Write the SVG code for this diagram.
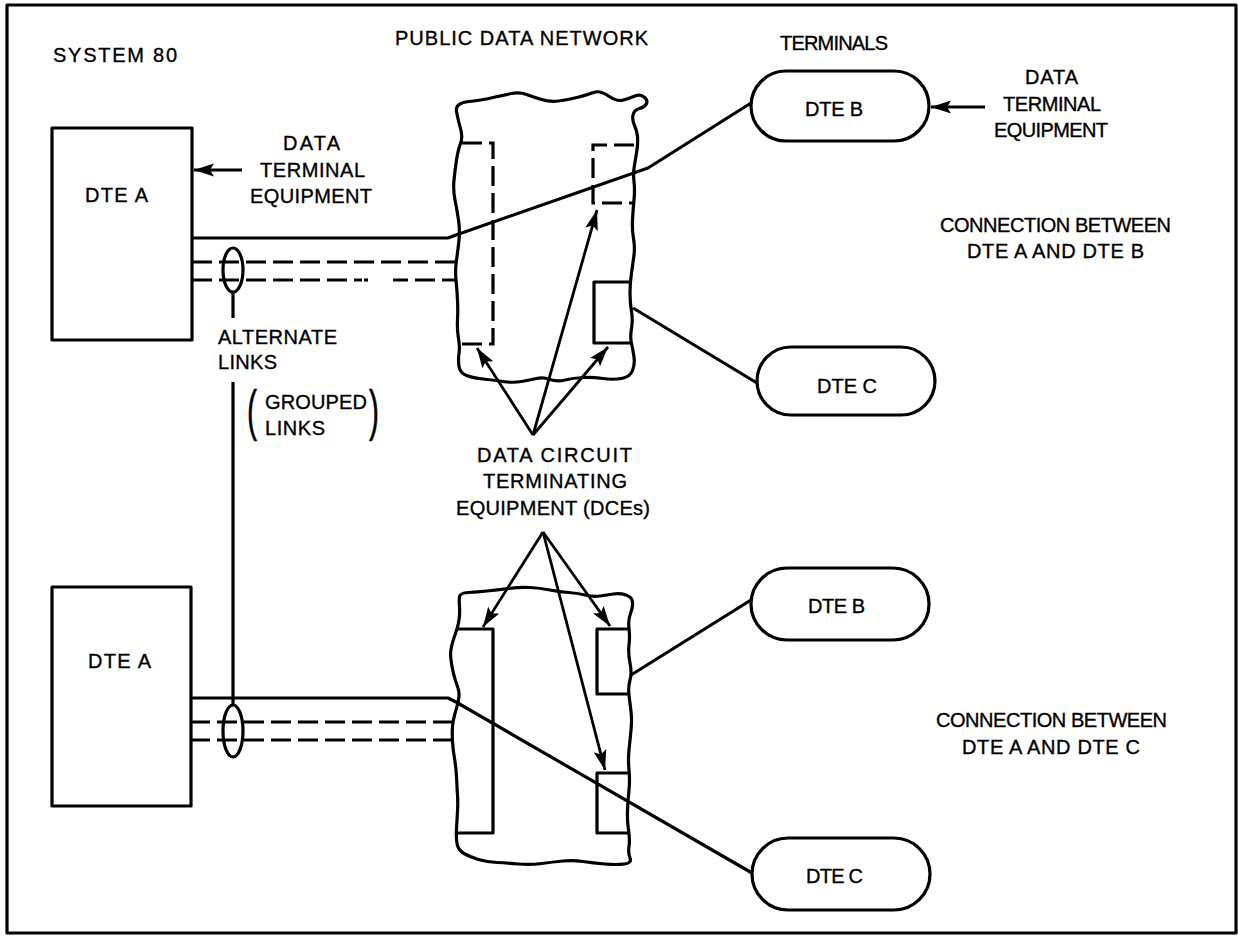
<svg xmlns="http://www.w3.org/2000/svg" width="1238" height="936" viewBox="0 0 1238 936">
<defs>
<style>
.t{font-family:"Liberation Sans",Arial,sans-serif;font-size:20px;fill:#000;stroke:#000;stroke-width:0.35}
.s{fill:none;stroke:#000;stroke-width:3.2;stroke-linejoin:round}
.d{fill:none;stroke:#000;stroke-width:3.2;stroke-dasharray:20 7}
.a{fill:none;stroke:#000;stroke-width:2.8;marker-end:url(#ah)}
</style>
<marker id="ah" markerUnits="userSpaceOnUse" markerWidth="22" markerHeight="14" refX="20" refY="7" orient="auto"><path d="M0,0.5 L20,7 L0,13.5 L4,7 Z" fill="#000"/></marker>
</defs>
<rect x="0" y="0" width="1238" height="936" fill="#fff"/>
<rect id="frame" x="7" y="5" width="1229" height="928" class="s"/>

<text class="t" x="53" y="62" font-size="21" textLength="124" lengthAdjust="spacing">SYSTEM 80</text>
<text class="t" x="395" y="45" textLength="253" lengthAdjust="spacing">PUBLIC DATA NETWORK</text>
<text class="t" x="780" y="50" textLength="108" lengthAdjust="spacing">TERMINALS</text>

<g id="connectors">
<polyline class="s" points="192,238 448,238 456,235 648,168 751,103"/>
<line class="d" x1="192" y1="262" x2="456" y2="262"/>
<line class="d" x1="192" y1="280" x2="362" y2="280"/>
<line class="s" x1="364" y1="280" x2="368" y2="280"/>
<line class="d" x1="393" y1="280" x2="457" y2="280" stroke-dashoffset="5"/>
<line class="s" x1="633" y1="308" x2="757" y2="383"/>
<polyline class="s" points="190,698 448,698 456,702 752,873"/>
<line class="d" x1="190" y1="722" x2="454" y2="722"/>
<line class="d" x1="190" y1="740" x2="453" y2="740"/>
<line class="s" x1="631" y1="675" x2="751" y2="600"/>
<line class="s" x1="233" y1="292" x2="233" y2="318"/>
<line class="s" x1="233" y1="382" x2="233" y2="705"/>
<line class="a" x1="242" y1="170" x2="194" y2="170"/>
<line class="a" x1="985" y1="107" x2="931" y2="107"/>
<line class="a" x1="533" y1="435" x2="477" y2="348"/>
<line class="a" x1="533" y1="435" x2="608" y2="347"/>
<line class="a" x1="533" y1="435" x2="597" y2="210"/>
<line class="a" x1="543" y1="532" x2="483" y2="627"/>
<line class="a" x1="543" y1="532" x2="610" y2="626"/>
<line class="a" x1="543" y1="532" x2="605" y2="770"/>
</g>

<g id="dte-a-top">
<rect class="s" x="52" y="128" width="140" height="212"/>
<text class="t" x="85" y="202" textLength="63" lengthAdjust="spacing">DTE A</text>
</g>
<g id="dte-label-left">
<text class="t" x="283" y="150" textLength="57" lengthAdjust="spacing">DATA</text>
<text class="t" x="260" y="177" textLength="105" lengthAdjust="spacing">TERMINAL</text>
<text class="t" x="250" y="203" textLength="122" lengthAdjust="spacing">EQUIPMENT</text>
</g>
<g id="link-group-top"><ellipse class="s" cx="233" cy="270" rx="10" ry="22"/></g>
<g id="alt-links">
<text class="t" x="218" y="344" textLength="119" lengthAdjust="spacing">ALTERNATE</text>
<text class="t" x="218" y="369" textLength="59" lengthAdjust="spacing">LINKS</text>
<text class="t" transform="translate(247,429) scale(1.5,2.8)" font-size="20" style="stroke-width:0.2">(</text>
<text class="t" x="265" y="409" textLength="102" lengthAdjust="spacing">GROUPED</text>
<text class="t" x="265" y="435" textLength="60" lengthAdjust="spacing">LINKS</text>
<text class="t" transform="translate(369,429) scale(1.5,2.8)" font-size="20" style="stroke-width:0.2">)</text>
</g>

<g id="network-top">
<path class="s" d="M 469,101.5 Q 483,100 493,97.5 Q 503,95 511.5,93.5 Q 520,92 526.5,94.5 Q 533,97 541.5,99.5 Q 550,102 558.5,101 Q 567,100 577,97.5 Q 587,95 593.5,92.5 Q 600,90 608.5,96 Q 617,102 623.5,100 Q 630,98 635,96 Q 640,94 644,97 Q 648,100 646.5,103.5 Q 645,107 639.5,108.5 Q 634,110 633,115 Q 632,120 634.5,125.5 Q 637,131 637.5,136.5 Q 638,142 637,149.5 Q 636,157 634.5,165 Q 633,173 634,181.5 Q 635,190 634,200 Q 633,210 632.5,220 Q 632,230 633.5,238.5 Q 635,247 634,255 Q 633,263 631.5,273 Q 630,283 630,293 Q 630,303 631.5,311.5 Q 633,320 631.5,328.5 Q 630,337 631.5,343.5 Q 633,350 634,357 Q 635,364 632.5,370.5 Q 630,377 621.5,378.5 Q 613,380 603,378.5 Q 593,377 583,377.5 Q 573,378 565,380 Q 557,382 550,379.5 Q 543,377 536.5,378.5 Q 530,380 521.5,381.5 Q 513,383 503,381.5 Q 493,380 483,379 Q 473,378 466.5,375.5 Q 460,373 459,366.5 Q 458,360 459,353.5 Q 460,347 458.5,338.5 Q 457,330 457.5,320 Q 458,310 457.5,300 Q 457,290 456,280 Q 455,270 456.5,260 Q 458,250 459,240 Q 460,230 458.5,220 Q 457,210 455,200 Q 453,190 454,180 Q 455,170 456.5,160 Q 458,150 460.5,143.5 Q 463,137 460.5,128.5 Q 458,120 456.5,111.5 Q 455,103 469,101.5 Z"/>
<path class="d" d="M 462,143 H 493 V 344 H 461"/>
<path class="d" d="M 634,145 H 593 V 203 H 634"/>
<path class="s" d="M 632,282 H 594 V 343 H 632"/>
</g>

<g id="dte-b-top">
<rect class="s" x="751" y="71" width="178" height="70" rx="35"/>
<text class="t" x="805" y="116" textLength="58" lengthAdjust="spacing">DTE B</text>
</g>
<g id="dte-label-right">
<text class="t" x="1025" y="84" textLength="53" lengthAdjust="spacing">DATA</text>
<text class="t" x="1003" y="111" textLength="98" lengthAdjust="spacing">TERMINAL</text>
<text class="t" x="994" y="137" textLength="114" lengthAdjust="spacing">EQUIPMENT</text>
</g>
<g id="conn-ab">
<text class="t" x="940" y="232" textLength="231" lengthAdjust="spacing">CONNECTION BETWEEN</text>
<text class="t" x="967" y="258" textLength="177" lengthAdjust="spacing">DTE A AND DTE B</text>
</g>
<g id="dte-c-top">
<rect class="s" x="757" y="347" width="178" height="68" rx="34"/>
<text class="t" x="817" y="393" textLength="60" lengthAdjust="spacing">DTE C</text>
</g>

<g id="dce-label">
<text class="t" x="477" y="462" textLength="155" lengthAdjust="spacing">DATA CIRCUIT</text>
<text class="t" x="483" y="488" textLength="144" lengthAdjust="spacing">TERMINATING</text>
<text class="t" x="456" y="515" textLength="194" lengthAdjust="spacing">EQUIPMENT (DCEs)</text>
</g>

<g id="dte-a-bottom">
<rect class="s" x="52" y="587" width="139" height="219"/>
<text class="t" x="88" y="668" textLength="63" lengthAdjust="spacing">DTE A</text>
</g>
<g id="link-group-bottom"><ellipse class="s" cx="233" cy="731" rx="10" ry="26"/></g>

<g id="network-bottom">
<path class="s" d="M 468.5,592.5 Q 477,592 487,591 Q 497,590 508.5,588.5 Q 520,587 530,587.5 Q 540,588 550,590 Q 560,592 568.5,592.5 Q 577,593 585,595 Q 593,597 600,596 Q 607,595 613.5,594 Q 620,593 626,595 Q 632,597 632.5,602 Q 633,607 630.5,613.5 Q 628,620 629,628.5 Q 630,637 629,645 Q 628,653 630,663 Q 632,673 630,680 Q 628,687 629,695 Q 630,703 631,711.5 Q 632,720 631,730 Q 630,740 629,750 Q 628,760 629,770 Q 630,780 629,790 Q 628,800 627.5,810 Q 627,820 628.5,830 Q 630,840 629,846.5 Q 628,853 630,858 Q 632,863 624.5,864 Q 617,865 605,864 Q 593,863 583,861.5 Q 573,860 563,861 Q 553,862 541.5,863.5 Q 530,865 518.5,864 Q 507,863 497,862.5 Q 487,862 478.5,859.5 Q 470,857 464,853.5 Q 458,850 457,843.5 Q 456,837 456.5,828.5 Q 457,820 457.5,811.5 Q 458,803 457.5,795 Q 457,787 456.5,777 Q 456,767 454.5,758.5 Q 453,750 452.5,741.5 Q 452,733 452.5,726.5 Q 453,720 455,713.5 Q 457,707 458.5,700 Q 460,693 457.5,686.5 Q 455,680 453.5,673.5 Q 452,667 451,660 Q 450,653 451.5,646.5 Q 453,640 455.5,633.5 Q 458,627 459,620 Q 460,613 459.5,606.5 Q 459,600 459.5,596.5 Q 460,593 468.5,592.5 Z"/>
<path class="s" d="M 458,629 H 493 V 833 H 456"/>
<path class="s" d="M 630,629 H 597 V 694 H 630"/>
<path class="s" d="M 630,773 H 597 V 833 H 630"/>
</g>

<g id="dte-b-bottom">
<rect class="s" x="751" y="568" width="178" height="72" rx="36"/>
<text class="t" x="808" y="613" textLength="57" lengthAdjust="spacing">DTE B</text>
</g>
<g id="dte-c-bottom">
<rect class="s" x="752" y="838" width="178" height="72" rx="36"/>
<text class="t" x="806" y="883" textLength="57" lengthAdjust="spacing">DTE C</text>
</g>
<g id="conn-ac">
<text class="t" x="936" y="727" textLength="231" lengthAdjust="spacing">CONNECTION BETWEEN</text>
<text class="t" x="962" y="754" textLength="178" lengthAdjust="spacing">DTE A AND DTE C</text>
</g>
</svg>
